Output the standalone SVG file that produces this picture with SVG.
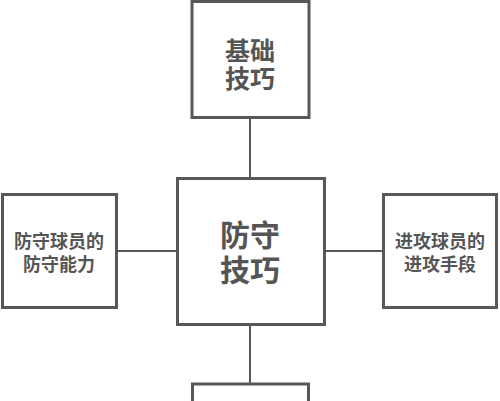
<svg xmlns="http://www.w3.org/2000/svg" width="500" height="401" viewBox="0 0 500 401">
<style>
.box{fill:#fff;stroke:#585858;stroke-width:3}
.ln{stroke:#585858;stroke-width:2;fill:none}
text{font-family:"Noto Sans CJK SC","Noto Sans",sans-serif;font-weight:bold;fill:#555;text-anchor:middle;dominant-baseline:central}
.big{font-size:30px}
.mid{font-size:25px}
.sm{font-size:18px}
</style>
<rect width="500" height="401" fill="#fff"/>
<g id="connectors">
<line class="ln" x1="250" y1="118" x2="250" y2="178"/>
<line class="ln" x1="250" y1="325" x2="250" y2="384"/>
<line class="ln" x1="117" y1="251" x2="177" y2="251"/>
<line class="ln" x1="325" y1="251" x2="383" y2="251"/>
</g>
<g id="top">
<rect class="box" x="192" y="1.5" width="117" height="116"/>
<text class="mid"><tspan x="250" y="49">基础</tspan><tspan x="250" y="77">技巧</tspan></text>
</g>
<g id="center">
<rect class="box" x="177.5" y="178.5" width="147" height="146"/>
<text class="big"><tspan x="250" y="233">防守</tspan><tspan x="250" y="268">技巧</tspan></text>
</g>
<g id="left">
<rect class="box" x="2.5" y="194.5" width="114" height="113"/>
<text class="sm"><tspan x="59" y="240">防守球员的</tspan><tspan x="59" y="263">防守能力</tspan></text>
</g>
<g id="right">
<rect class="box" x="383.5" y="194.5" width="113" height="113"/>
<text class="sm"><tspan x="440" y="240">进攻球员的</tspan><tspan x="440" y="263">进攻手段</tspan></text>
</g>
<g id="bottom">
<rect class="box" x="192.5" y="384" width="116" height="30"/>
</g>
</svg>
